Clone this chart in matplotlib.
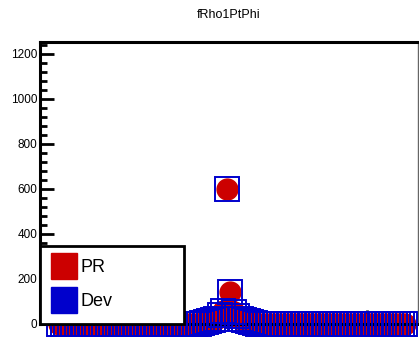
import numpy as np
import matplotlib.pyplot as plt
from matplotlib.lines import Line2D
from matplotlib.ticker import MultipleLocator

plt.rcParams["font.family"] = ["Liberation Sans", "DejaVu Sans"]

# bin contents (PR and Dev agree, bins 0..99)
bins = list(range(100))
pr_vals = [0, 0, 0, 0, 0, 0, 0, 0, 0, 0,
           0, 0, 0, 0, 0, 0, 0, 0, 0, 0,
           0, 0, 0, 0, 0, 0, 0, 0, 0, 0,
           0, 0, 0, 0, 0, 0, 0, 0, 0, 0,
           0, 3, 6, 10, 15, 20, 40, 55, 600, 140,
           50, 35, 20, 15, 10, 6, 3, 0, 0, 0,
           0, 0, 0, 0, 0, 0, 0, 0, 0, 0,
           0, 0, 0, 0, 0, 0, 0, 0, 0, 0,
           0, 0, 0, 0, 0, 0, 0, 0, 0, 0,
           0, 0, 0, 0, 0, 0, 0, 0, 0, 0]
dev_vals = list(pr_vals)

red = "#cc0000"
blue = "#0000cc"

fig = plt.figure(figsize=(4.19, 3.37), dpi=100)
ax = fig.add_axes([40 / 419, 1 - 323.5 / 337, 378 / 419, 281.5 / 337])

ax.plot(bins, pr_vals, ls="none", marker="o", ms=15, mfc=red, mec=red,
        clip_on=False, zorder=2)
ax.plot(bins, dev_vals, ls="none", marker="s", ms=17.3, mfc="none",
        mec=blue, mew=1.4, clip_on=False, zorder=3)

ax.set_xlim(-5.45, 102.7)
ax.set_ylim(0, 1253)

ax.yaxis.set_major_locator(MultipleLocator(200))
ax.yaxis.set_minor_locator(MultipleLocator(40))
ax.xaxis.set_major_locator(MultipleLocator(40, offset=8))
ax.xaxis.set_minor_locator(MultipleLocator(4))
ax.tick_params(which="both", direction="in", width=2, top=False,
               right=False, labelbottom=False, labelsize=8.5)
ax.tick_params(which="major", length=10)
ax.tick_params(which="minor", length=5)
ax.tick_params(axis="y", pad=2)

for side in ["left", "top", "bottom"]:
    ax.spines[side].set_linewidth(2.2)
ax.spines["right"].set_linewidth(1)
ax.spines["right"].set_color("#666666")

fig.text(229 / 419, 1 - 15 / 337, "fRho1PtPhi", ha="center", va="center",
         fontsize=9)

handles = [
    Line2D([], [], ls="none", marker="s", ms=19, mfc=red, mec=red),
    Line2D([], [], ls="none", marker="s", ms=19, mfc=blue, mec=blue),
]
leg = ax.legend(handles, ["PR", "Dev"], loc="lower left",
                bbox_to_anchor=(0.0, 0.0, 144 / 378, 0.27), mode="expand",
                borderaxespad=0, fontsize=13, frameon=True, fancybox=False,
                framealpha=1, handlelength=1.2, handletextpad=0.3,
                labelspacing=0.95, borderpad=0.72)
leg.get_frame().set_edgecolor("black")
leg.get_frame().set_linewidth(2)
leg.set_zorder(5)

fig.savefig("out.png", dpi=100)
